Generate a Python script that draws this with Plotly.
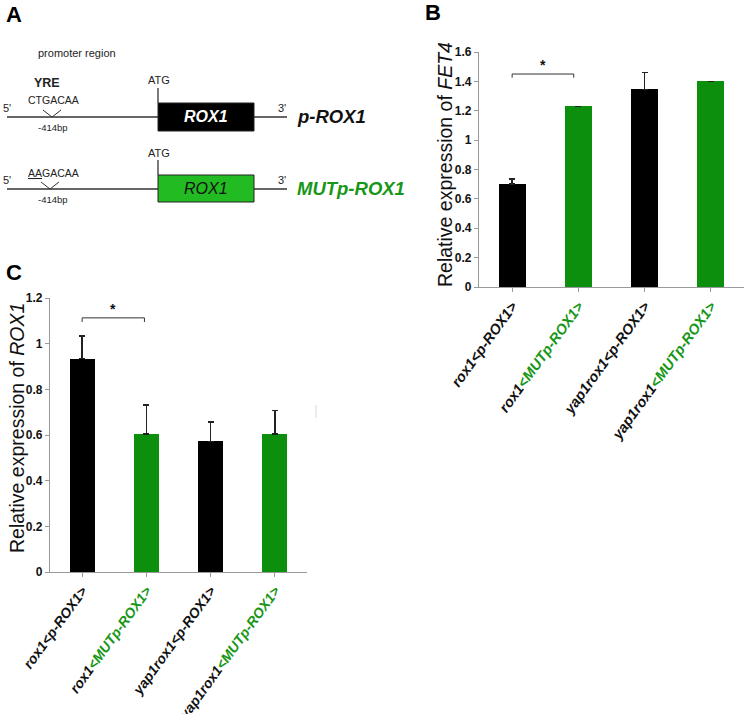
import plotly.graph_objects as go

W, H = 745, 714
FONT = "Arial, Liberation Sans, sans-serif"

# ---------------- data ----------------
categories = ["rox1<p-ROX1>", "rox1<MUTp-ROX1>", "yap1rox1<p-ROX1>", "yap1rox1<MUTp-ROX1>"]
fet4_values = [0.70, 1.23, 1.345, 1.40]
fet4_errors = [0.035, 0.0, 0.115, 0.0]
rox1_values = [0.935, 0.605, 0.572, 0.605]
rox1_errors = [0.098, 0.127, 0.085, 0.103]
bar_colors = ["#000000", "#0c8f0c", "#000000", "#0c8f0c"]
fet4_ticks = [0, 0.2, 0.4, 0.6, 0.8, 1.0, 1.2, 1.4, 1.6]
fet4_ticktext = ["0", "0.2", "0.4", "0.6", "0.8", "1", "1.2", "1.4", "1.6"]
rox1_ticks = [0, 0.2, 0.4, 0.6, 0.8, 1.0, 1.2]
rox1_ticktext = ["0", "0.2", "0.4", "0.6", "0.8", "1", "1.2"]

LABEL_GREEN = "#179617"
BOX_GREEN = "#22bb22"


def tick_label(c):
    if "MUTp" in c:
        pre, post = c.split("<", 1)
        return ("<b><i>%s<span style='color:%s'>&lt;%s</span></i></b>"
                % (pre, LABEL_GREEN, post.replace(">", "&gt;")))
    return "<b><i>%s</i></b>" % c.replace("<", "&lt;").replace(">", "&gt;")


ticktexts = [tick_label(c) for c in categories]
xidx = list(range(len(categories)))


def px(x):
    return x / W


def py(y):
    return 1 - y / H


fig = go.Figure()

# Panel B bars
fig.add_trace(go.Bar(
    x=xidx, y=fet4_values, width=0.41, marker=dict(color=bar_colors, line=dict(width=0)),
    error_y=dict(type="data", symmetric=False, array=fet4_errors, arrayminus=[0] * 4,
                 color="#222222", thickness=1.5, width=3),
    xaxis="x", yaxis="y", showlegend=False))

# Panel C bars
fig.add_trace(go.Bar(
    x=xidx, y=rox1_values, width=0.39, marker=dict(color=bar_colors, line=dict(width=0)),
    error_y=dict(type="data", symmetric=False, array=rox1_errors, arrayminus=[0] * 4,
                 color="#222222", thickness=1.5, width=3),
    xaxis="x2", yaxis="y2", showlegend=False))

axis_common = dict(showgrid=False, zeroline=False, showline=True, linecolor="#9a9a9a",
                   linewidth=1.2, ticks="outside", tickcolor="#9a9a9a", ticklen=4,
                   fixedrange=True, automargin=False)

fig.update_layout(
    width=W, height=H, margin=dict(l=0, r=0, t=0, b=0, pad=0, autoexpand=False),
    paper_bgcolor="white", plot_bgcolor="white",
    font=dict(family=FONT, color="#111111"),
    bargap=0,
    xaxis=dict(domain=[px(479), px(744)], range=[-0.5, 3.5], tickmode="array",
               tickvals=xidx, ticktext=ticktexts, tickangle=-54, tickson="boundaries",
               tickfont=dict(size=14.5, family=FONT, color="#111111"), anchor="y",
               **axis_common),
    yaxis=dict(domain=[py(287), py(52)], range=[0, 1.6], tickmode="array",
               tickvals=fet4_ticks, ticktext=["<b>%s</b>" % t for t in fet4_ticktext],
               tickfont=dict(size=12, family=FONT, color="#111111"), anchor="x",
               **axis_common),
    xaxis2=dict(domain=[px(50), px(307)], range=[-0.5, 3.5], tickmode="array",
                tickvals=xidx, ticktext=ticktexts, tickangle=-54, tickson="boundaries",
                tickfont=dict(size=14, family=FONT, color="#111111"), anchor="y2",
                **axis_common),
    yaxis2=dict(domain=[py(572), py(298)], range=[0, 1.2], tickmode="array",
                tickvals=rox1_ticks, ticktext=["<b>%s</b>" % t for t in rox1_ticktext],
                tickfont=dict(size=12, family=FONT, color="#111111"), anchor="x2",
                **axis_common),
)

shapes = []
ann = []

# significance brackets
for xa, ya, x0, x1, yb, ytick, ystar in [("x", "y", 0.0, 0.93, 1.45, 1.425, 1.51),
                                          ("x2", "y2", 0.0, 0.97, 1.113, 1.095, 1.15)]:
    shapes.append(dict(type="path", xref=xa, yref=ya,
                       path="M %g %g L %g %g L %g %g L %g %g" % (x0, ytick, x0, yb, x1, yb, x1, ytick),
                       line=dict(color="#333333", width=1)))
    ann.append(dict(xref=xa, yref=ya, x=(x0 + x1) / 2, y=ystar, text="<b>*</b>",
                    xanchor="center", yanchor="middle",
                    showarrow=False, font=dict(size=14, color="#111111")))

# faint artifact line in panel C
shapes.append(dict(type="line", xref="paper", yref="paper", x0=px(316), x1=px(316),
                   y0=py(405), y1=py(418), line=dict(color="#d8d8d8", width=1)))

# axis titles
ann.append(dict(xref="paper", yref="paper", x=px(445), y=py(165), xanchor="center", yanchor="middle",
                text="Relative expression of <i>FET4</i>", textangle=-90, showarrow=False,
                font=dict(size=19.5, family=FONT, color="#111111")))
ann.append(dict(xref="paper", yref="paper", x=px(17), y=py(428), xanchor="center", yanchor="middle",
                text="Relative expression of <i>ROX1</i>", textangle=-90, showarrow=False,
                font=dict(size=19.5, family=FONT, color="#111111")))

# panel letters
for letter, x, y in [("A", 14, 14), ("B", 433, 12), ("C", 14, 272)]:
    ann.append(dict(xref="paper", yref="paper", x=px(x), y=py(y), text="<b>%s</b>" % letter,
                    xanchor="center", yanchor="middle",
                    showarrow=False, font=dict(size=22, family=FONT, color="#000000")))

# ---------------- Panel A schematic ----------------
LINE = dict(color="#333333", width=1.3)


def pline(x0, y0, x1, y1):
    shapes.append(dict(type="line", xref="paper", yref="paper", x0=px(x0), y0=py(y0),
                       x1=px(x1), y1=py(y1), line=LINE))


def txt(x, y, t, size=12, color="#222222", family=FONT, xanchor="center"):
    ann.append(dict(xref="paper", yref="paper", x=px(x), y=py(y), text=t, showarrow=False,
                    xanchor=xanchor, yanchor="middle", font=dict(size=size, color=color, family=family)))


txt(77, 53, "promoter region", size=11)

rows = [
    dict(y=117, box_fill="#000000", box_text="<b><i>ROX1</i></b>", box_text_color="white",
         seq="CTGACAA", seq_y=100, yre=True, label="<b><i>p-ROX1</i></b>", label_color="#111111",
         atg_y=80, top=103, bot=131, v_top=110),
    dict(y=189, box_fill=BOX_GREEN, box_text="<i>ROX1</i>", box_text_color="#111111",
         seq="<u>AA</u>GACAA", seq_y=173, yre=False, label="<b><i>MUTp-ROX1</i></b>",
         label_color=LABEL_GREEN, atg_y=153, top=175, bot=202, v_top=182),
]
for r in rows:
    yl = r["y"]
    pline(7, yl, 158, yl)
    pline(254, yl, 287, yl)
    shapes.append(dict(type="rect", xref="paper", yref="paper", x0=px(158), x1=px(254),
                       y0=py(r["bot"]), y1=py(r["top"]), fillcolor=r["box_fill"],
                       line=dict(color="#222222", width=1)))
    pline(158, r["top"] - 15, 158, r["top"])
    txt(159, r["atg_y"], "ATG", size=11)
    txt(206, (r["top"] + r["bot"]) / 2, r["box_text"], size=16, color=r["box_text_color"])
    txt(7, yl - 9, "5'", size=11)
    txt(282, yl - 9, "3'", size=11)
    # V marker
    vx = 52 if r["yre"] else 50
    shapes.append(dict(type="path", xref="paper", yref="paper",
                       path="M %g %g L %g %g L %g %g" % (px(vx - 9), py(r["v_top"]), px(vx), py(yl),
                                                          px(vx + 9), py(r["v_top"])),
                       line=dict(color="#333333", width=1)))
    txt(53, r["seq_y"], r["seq"], size=10.5)
    txt(53, yl + 10, "-414bp", size=9.5)
    txt(295, yl, r["label"], size=18.5, color=r["label_color"], xanchor="left")

txt(47, 83, "<b>YRE</b>", size=12.5)

fig.update_layout(shapes=shapes, annotations=ann)
fig.write_html("out.html", config={"displayModeBar": False},
               post_script="document.body.style.margin='0px';")
